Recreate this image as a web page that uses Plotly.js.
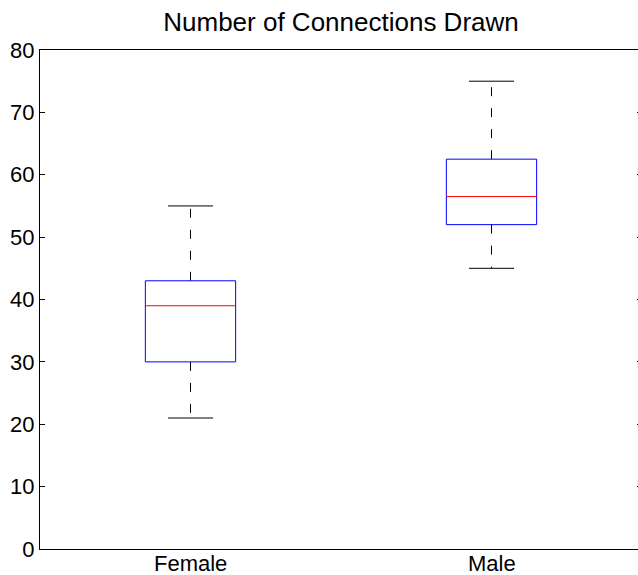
<!DOCTYPE html>
<html>
<head>
<meta charset="utf-8">
<script src="https://cdn.plot.ly/plotly-3.0.1.min.js"></script>
<style>
html,body{margin:0;padding:0;overflow:hidden;background:#fff;width:638px;height:575px;}
#chart{width:642px;height:575px;}
</style>
</head>
<body>
<div id="chart"></div>
<script>
// Data
const categories = ["Female", "Male"];
const lowerWhisker = [21, 45];
const q1 = [30, 52];
const median = [39, 56.5];
const q3 = [43, 62.5];
const upperWhisker = [55, 75];

const boxHalf = 0.15;
const capHalf = 0.075;

const traces = [];
const annotations = [];
categories.forEach((c, i) => {
  const x = i + 1;
  // whiskers (dashed)
  traces.push({
    type: "scatter", mode: "lines", hoverinfo: "skip", showlegend: false,
    x: [x, x, null, x, x],
    y: [q3[i], upperWhisker[i], null, q1[i], lowerWhisker[i]],
    line: {color: "#000", width: 1, dash: "9px,12px"}
  });
  // caps
  traces.push({
    type: "scatter", mode: "lines", hoverinfo: "skip", showlegend: false,
    x: [x - capHalf, x + capHalf, null, x - capHalf, x + capHalf],
    y: [upperWhisker[i], upperWhisker[i], null, lowerWhisker[i], lowerWhisker[i]],
    line: {color: "#000", width: 1}
  });
  // box
  traces.push({
    type: "scatter", mode: "lines", hoverinfo: "skip", showlegend: false,
    x: [x - boxHalf, x + boxHalf, x + boxHalf, x - boxHalf, x - boxHalf],
    y: [q1[i], q1[i], q3[i], q3[i], q1[i]],
    line: {color: "#0000ff", width: 1}
  });
  // median
  traces.push({
    type: "scatter", mode: "lines", hoverinfo: "skip", showlegend: false,
    x: [x - boxHalf, x + boxHalf],
    y: [median[i], median[i]],
    line: {color: "#ff0000", width: 1}
  });
  // category label
  annotations.push({
    text: c, x: x, xref: "x", y: 0, yref: "paper",
    xanchor: "center", yanchor: "middle", yshift: -14, showarrow: false,
    font: {size: 22, color: "#000"}
  });
});

const layout = {
  width: 642, height: 575,
  margin: {l: 40, r: 0, t: 50, b: 26},
  paper_bgcolor: "#fff", plot_bgcolor: "#fff",
  font: {family: "Liberation Sans, Arial, sans-serif", size: 22, color: "#000"},
  title: {text: "Number of Connections Drawn", x: 0.5, xref: "paper", y: 0.962, yanchor: "middle",
          font: {size: 26, color: "#000"}},
  annotations: annotations,
  xaxis: {
    range: [0.5, 2.5], showticklabels: false,
    ticks: "", showgrid: false, zeroline: false,
    showline: true, linecolor: "#000", linewidth: 1, mirror: true
  },
  yaxis: {
    range: [0, 80], dtick: 10, tick0: 0,
    ticks: "inside", ticklen: 5, tickcolor: "#000", tickwidth: 1,
    showgrid: false, zeroline: false,
    showline: true, linecolor: "#000", linewidth: 1, mirror: "ticks",
    tickfont: {size: 22}
  }
};

Plotly.newPlot("chart", traces, layout, {displayModeBar: false, staticPlot: true});
</script>
</body>
</html>
